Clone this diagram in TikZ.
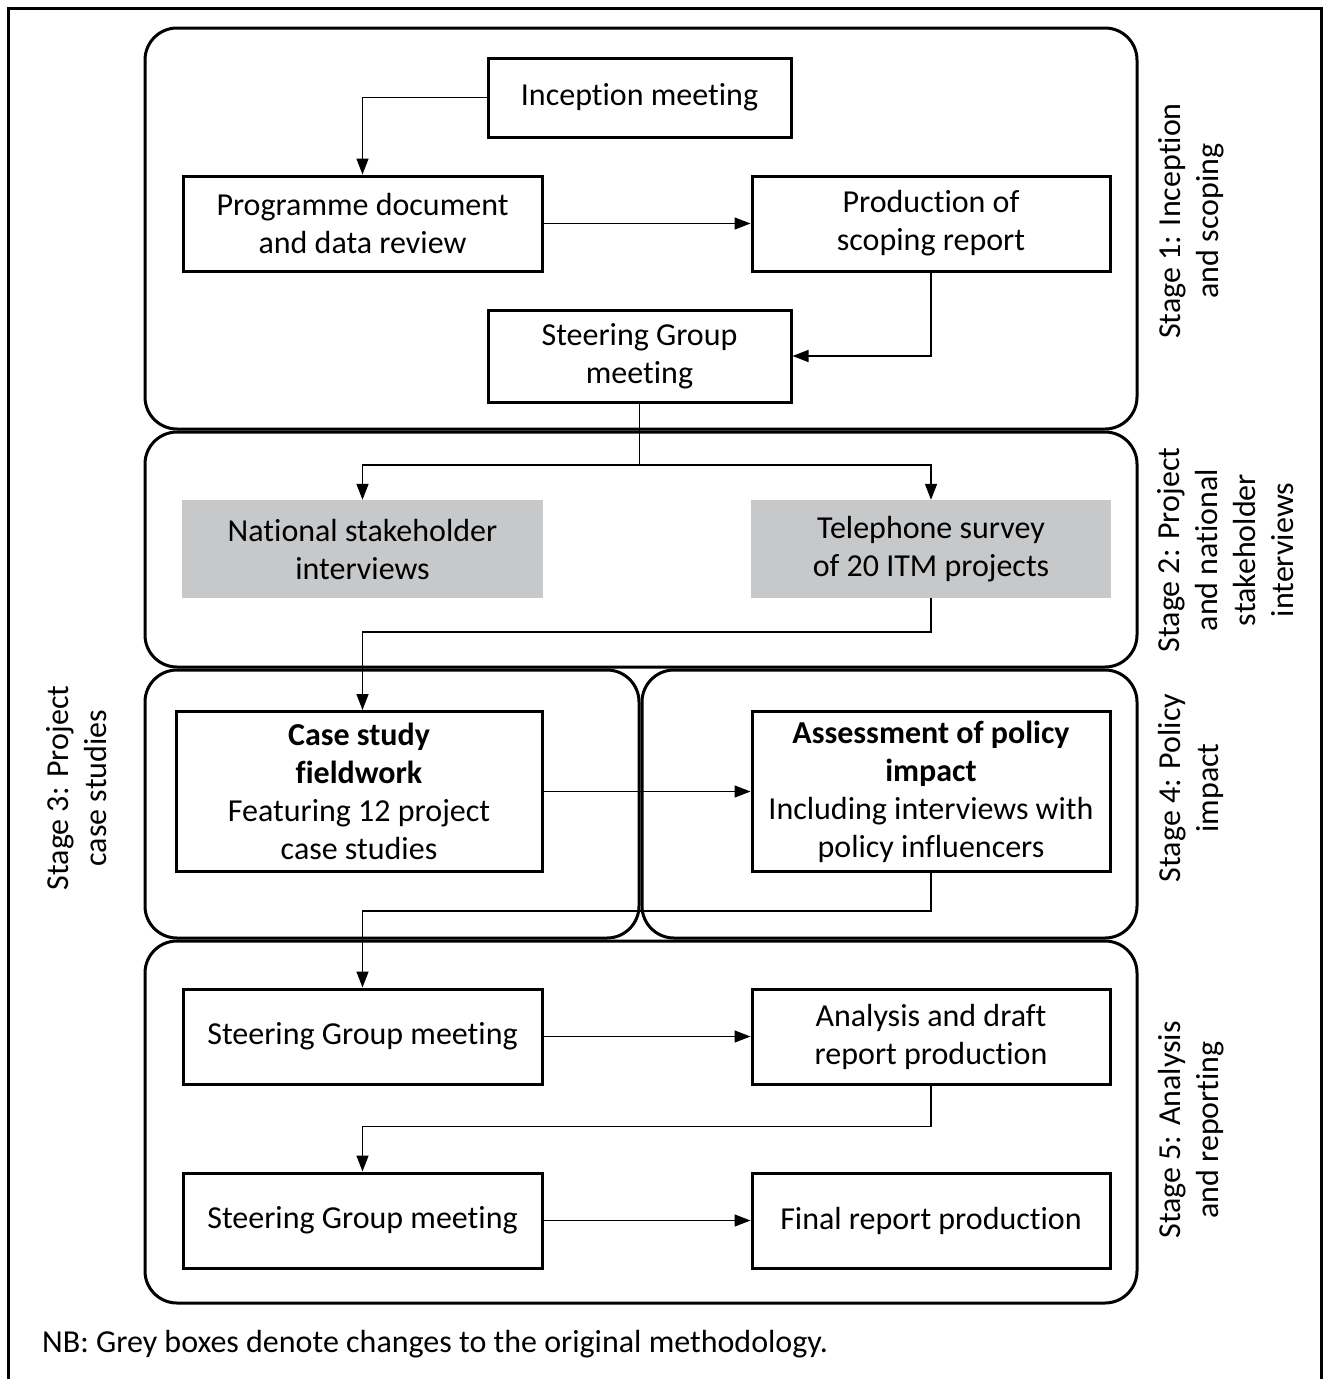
\documentclass[tikz,border=0pt]{standalone}
\usepackage{fontspec}
\setmainfont{Carlito}[Ligatures={NoCommon}]
\usetikzlibrary{arrows.meta}
\definecolor{boxgrey}{RGB}{199,200,202}
\begin{document}
\begin{tikzpicture}[x=1pt,y=-1pt,
  every node/.style={font=\fontsize{32}{38}\selectfont, inner sep=0pt},
  box/.style={draw, line width=3pt, align=center},
  greybox/.style={fill=boxgrey, align=center},
  stagebox/.style={draw, line width=3pt, rounded corners=32pt},
  stagelabel/.style={rotate=90, align=center},
  arr/.style={line width=1.5pt, -{Triangle[length=16pt,width=12pt]}},
  conn/.style={line width=1.5pt}]
\useasboundingbox (0,0) rectangle (1323,1379);
% outer frame (open at bottom)
\draw[line width=3pt] (8,1379) -- (8,8) -- (1321,8) -- (1321,1379);
% stage boxes
\draw[stagebox] (145,28) rectangle (1137,429);
\draw[stagebox] (145,432) rectangle (1137,667);
\draw[stagebox] (145,670) rectangle (639,938);
\draw[stagebox] (642,670) rectangle (1137,938);
\draw[stagebox] (145,941) rectangle (1137,1303);
% stage labels
\node[stagelabel] (l1) at (1191,221) {Stage 1: Inception\\and scoping};
\node[stagelabel] (l2) at (1226,550) {Stage 2: Project\\and national\\stakeholder\\interviews};
\node[stagelabel] (l3) at (77,788) {Stage 3: Project\\case studies};
\node[stagelabel] (l4) at (1191,788) {Stage 4: Policy\\impact};
\node[stagelabel] (l5) at (1191,1130) {Stage 5: Analysis\\and reporting};
% boxes
\node[box, minimum width=303pt, minimum height=79pt] (inc) at (639.5,97.5) {Inception meeting};
\node[box, minimum width=359pt, minimum height=95pt] (prog) at (362.5,223.5) {Programme document\\and data review};
\node[box, minimum width=358pt, minimum height=95pt] (prod) at (931,223.5) {Production of\\scoping report};
\node[box, minimum width=303pt, minimum height=92pt] (sg1) at (639.5,356) {Steering Group\\meeting};
\node[greybox, minimum width=361pt, minimum height=98pt] (nat) at (362.5,549) {National stakeholder\\interviews};
\node[greybox, minimum width=360pt, minimum height=98pt] (tel) at (931,549) {Telephone survey\\of 20 ITM projects};
\node[box, minimum width=366pt, minimum height=160pt] (cs) at (359,791.5) {\textbf{Case study}\\\textbf{fieldwork}\\Featuring 12 project\\case studies};
\node[box, minimum width=358pt, minimum height=160pt] (ass) at (931,791.5) {\textbf{Assessment of policy}\\\textbf{impact}\\Including interviews with\\policy influencers};
\node[box, minimum width=359pt, minimum height=95pt] (sg2) at (362.5,1036.5) {Steering Group meeting};
\node[box, minimum width=358pt, minimum height=95pt] (ana) at (931,1036.5) {Analysis and draft\\report production};
\node[box, minimum width=359pt, minimum height=95pt] (sg3) at (362.5,1220.5) {Steering Group meeting};
\node[box, minimum width=358pt, minimum height=95pt] (fin) at (931,1220.5) {Final report production};
% note
\node[anchor=west] (nb) at (42,1344) {NB: Grey boxes denote changes to the original methodology.};
% connectors
\draw[arr] (inc.west) -| (prog.north);
\draw[arr] (prog.east) -- (prod.west);
\draw[arr] (prod.south) |- (sg1.east);
\coordinate (split) at (639.5,465);
\draw[conn] (sg1.south) -- (split);
\draw[arr] (split) -| (nat.north);
\draw[arr] (split) -| (tel.north);
\draw[arr] (tel.south) -- ++(0,34) -| (sg2.north |- cs.north);
\draw[arr] (cs.east) -- (ass.west);
\draw[arr] (ass.south) -- ++(0,38) -| (sg2.north);
\draw[arr] (sg2.east) -- (ana.west);
\draw[arr] (ana.south) -- ++(0,41) -| (sg3.north);
\draw[arr] (sg3.east) -- (fin.west);
\end{tikzpicture}
\end{document}
